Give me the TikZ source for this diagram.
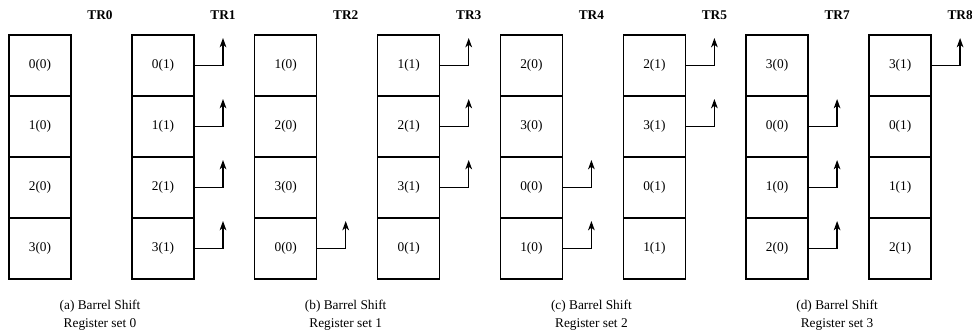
\documentclass[tikz,border=0pt]{standalone}
\usepackage{fontspec}
\setmainfont{Liberation Serif}
\usetikzlibrary{arrows.meta}

\begin{document}
\begin{tikzpicture}[x=0.75pt,y=-0.75pt,
  cell/.style={draw,line width=1.1pt,minimum width=46.5pt,minimum height=45.75pt,inner sep=0pt,font=\fontsize{10}{12}\selectfont},
  shiftarrow/.style={-{Stealth[length=7pt,width=5pt,inset=2pt]},line width=1pt},
  trlabel/.style={font=\fontsize{10}{12}\selectfont\bfseries},
  captext/.style={align=center,font=\fontsize{10}{13.5}\selectfont}]
\useasboundingbox (0,0) rectangle (972,332);

\foreach \k/\la/\lb/\sub in {0/TR0/TR1/a,1/TR2/TR3/b,2/TR4/TR5/c,3/TR7/TR8/d}{
  \pgfmathsetmacro{\xa}{9+245.7*\k}
  \foreach \c in {0,1}{
    \pgfmathsetmacro{\xc}{\xa+123*\c}
    \node[trlabel] (tr-\k-\c) at (\xc+91,15) {\ifnum\c=0 \la\else\lb\fi};
    \foreach \i in {0,...,3}{
      \pgfmathtruncatemacro{\v}{mod(\k+\i,4)}
      \pgfmathtruncatemacro{\hasarrow}{((\c==0)&&(\v<\k))||((\c==1)&&(\v>=\k))}
      \node[cell] (cell-\k-\c-\i) at (\xc+31,65.5+61*\i) {\v(\c)};
      \ifnum\hasarrow=1
        \coordinate (tip-\k-\c-\i) at (\xc+91,38+61*\i);
        \draw[shiftarrow] (cell-\k-\c-\i.east) -| (tip-\k-\c-\i);
      \fi
    }
  }
  \node[captext] (cap-\k) at (\xa+91,315) {(\sub) Barrel Shift\\Register set \k};
}
\end{tikzpicture}
\end{document}
